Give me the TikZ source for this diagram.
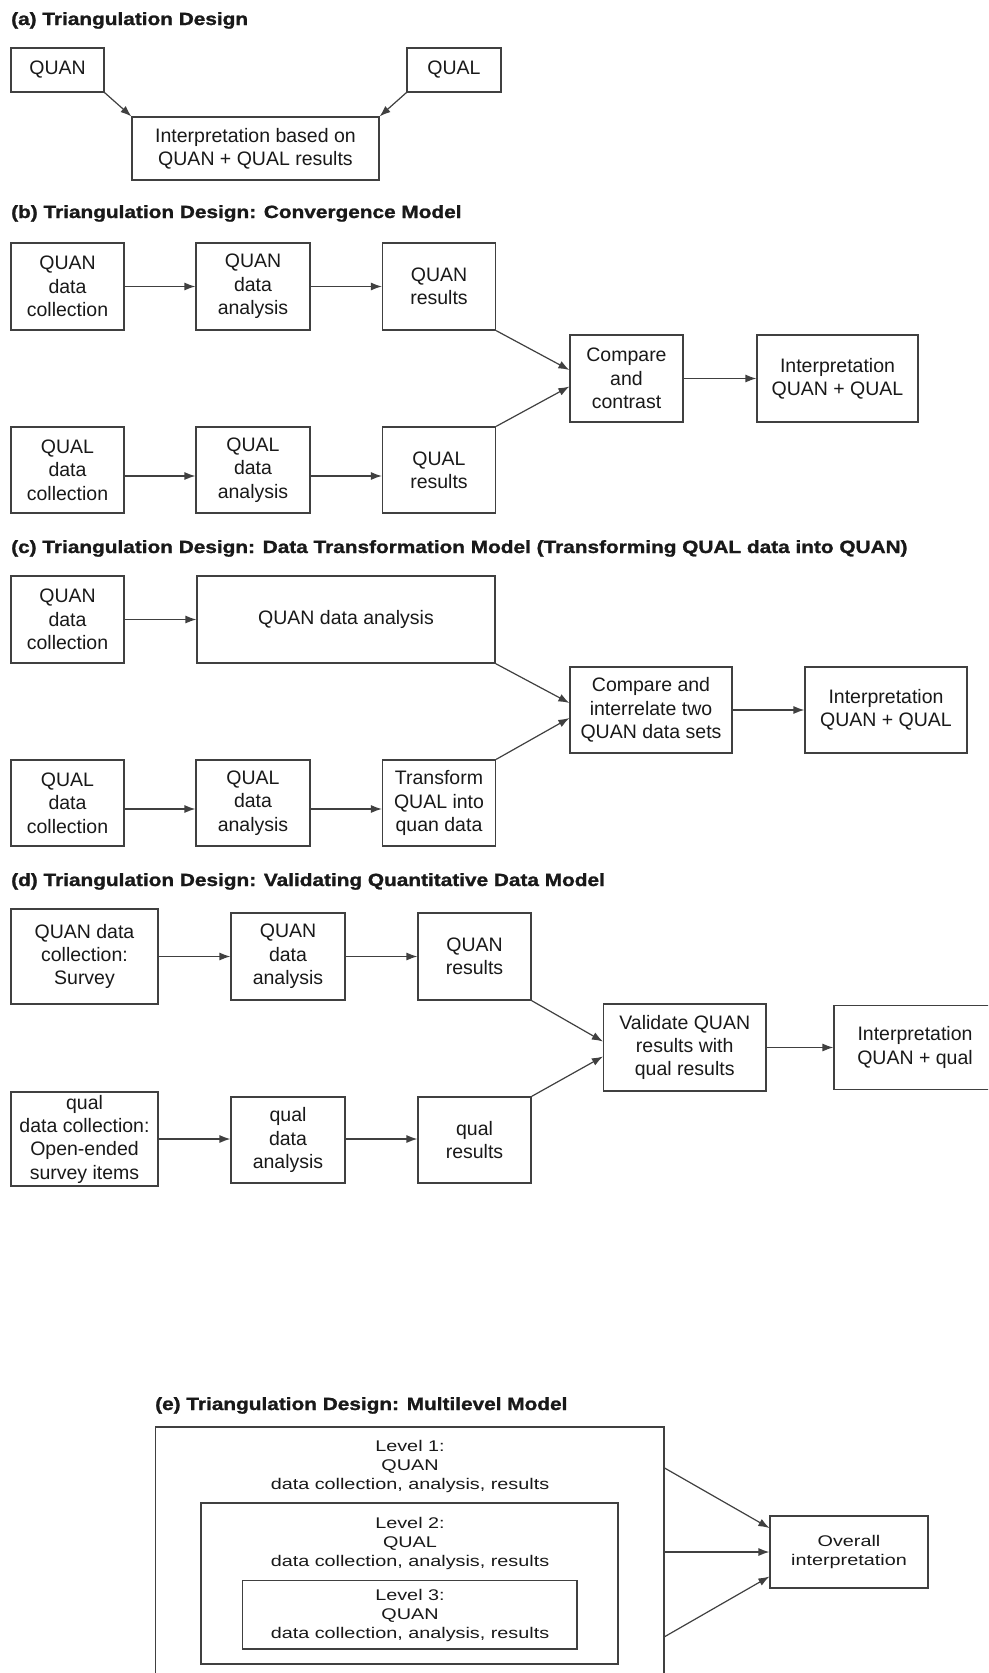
\documentclass[tikz,border=0pt]{standalone}
\usepackage{fontspec}
\setmainfont{Liberation Sans}
\newfontfamily\ttlfont{Liberation Sans Bold}[FakeBold=1.2]
\usetikzlibrary{arrows.meta,calc}
\newcommand{\sqz}[2]{\scalebox{1}[#1]{#2}}
\newcommand{\elines}[1]{\sqz{0.78}{\begin{tabular}{@{}c@{}}#1\end{tabular}}}
\tikzset{
  bx/.style 2 args={draw=black!75, line width=1.2pt, inner sep=0pt, align=center,
    font=\fontsize{19.5}{23.3}\selectfont, text=black!90,
    minimum width=#1, minimum height=#2},
  ebx/.style 2 args={draw=black!75, line width=1.2pt, inner sep=0pt,
    minimum width=#1, minimum height=#2},
  etx/.style={inner sep=0pt, font=\fontsize{19.8}{24.4}\selectfont, text=black!90},
  ar/.style={draw=black!75, line width=1.2pt, -{Latex[length=11pt,width=8pt]}},
  ttl/.style={anchor=base west, inner sep=0pt, font=\ttlfont\fontsize{20.8}{24}\selectfont, text=black!90},
}
\begin{document}
\begin{tikzpicture}[x=1pt,y=-1pt]
\useasboundingbox (0,0) rectangle (988,1673);
\clip (0,0) rectangle (988,1673);
\fill[white] (0,0) rectangle (988,1673);

% ---------------- (a)
\node[ttl] (ta) at (11,25) {\sqz{0.85}{(a) Triangulation Design}};
\node[bx={93pt}{44pt}] (a1) at (57.5,70) {QUAN};
\node[bx={94pt}{44pt}] (a2) at (454,70) {QUAL};
\node[bx={247pt}{63pt}] (a3) at (255.5,148.5) {Interpretation based on\\QUAN + QUAL results};
\draw[ar] (a1.south east) -- (a3.north west);
\draw[ar] (a2.south west) -- (a3.north east);

% ---------------- (b)
\node[ttl] (tb) at (11,218) {\sqz{0.85}{(b) Triangulation Design: Convergence Model}};
\node[bx={113pt}{87pt}] (b11) at (67.5,286.5) {QUAN\\data\\collection};
\node[bx={114pt}{87pt}] (b12) at (253,286.5) {QUAN\\data\\analysis};
\node[bx={113pt}{87pt}] (b13) at (439,286.5) {QUAN\\results};
\node[bx={113pt}{86pt}] (b21) at (67.5,470) {QUAL\\data\\collection};
\node[bx={114pt}{86pt}] (b22) at (253,470) {QUAL\\data\\analysis};
\node[bx={113pt}{86pt}] (b23) at (439,470) {QUAL\\results};
\node[bx={113pt}{87pt}] (bc) at (626.5,378.5) {Compare\\and\\contrast};
\node[bx={161pt}{87pt}] (bi) at (837.5,378.5) {Interpretation\\QUAN + QUAL};
\draw[ar] (b11) -- (b12);
\draw[ar] (b12) -- (b13);
\draw[ar] ([yshift=-6pt]b21.east) -- ([yshift=-6pt]b22.west);
\draw[ar] ([yshift=-6pt]b22.east) -- ([yshift=-6pt]b23.west);
\draw[ar] (b13.south east) -- ([yshift=8.5pt]bc.west);
\draw[ar] (b23.north east) -- ([yshift=-8pt]bc.west);
\draw[ar] (bc) -- (bi);

% ---------------- (c)
\node[ttl] (tc) at (11,553) {\sqz{0.85}{(c) Triangulation Design: Data Transformation Model (Transforming QUAL data into QUAN)}};
\node[bx={113pt}{87pt}] (c11) at (67.5,619.5) {QUAN\\data\\collection};
\node[bx={298pt}{87pt}] (c12) at (346,619.5) {QUAN data analysis};
\node[bx={113pt}{86pt}] (c21) at (67.5,803) {QUAL\\data\\collection};
\node[bx={114pt}{86pt}] (c22) at (253,803) {QUAL\\data\\analysis};
\node[bx={113pt}{86pt}] (c23) at (439,803) {Transform\\QUAL into\\quan data};
\node[bx={162pt}{86pt}] (cc) at (651,710) {Compare and\\interrelate two\\QUAN data sets};
\node[bx={162pt}{86pt}] (ci) at (886,710) {Interpretation\\QUAN + QUAL};
\draw[ar] (c11) -- (c12);
\draw[ar] ([yshift=-6pt]c21.east) -- ([yshift=-6pt]c22.west);
\draw[ar] ([yshift=-6pt]c22.east) -- ([yshift=-6pt]c23.west);
\draw[ar] (c12.south east) -- ([yshift=7pt]cc.west);
\draw[ar] (c23.north east) -- ([yshift=-8pt]cc.west);
\draw[ar] (cc) -- (ci);

% ---------------- (d)
\node[ttl] (td) at (11,886) {\sqz{0.85}{(d) Triangulation Design: Validating Quantitative Data Model}};
\node[bx={147pt}{95pt}] (d11) at (84.5,956.5) {QUAN data\\collection:\\Survey};
\node[bx={114pt}{87pt}] (d12) at (288,956.5) {QUAN\\data\\analysis};
\node[bx={113pt}{87pt}] (d13) at (474.5,956.5) {QUAN\\results};
\node[bx={147pt}{94pt}] (d21) at (84.5,1139) {qual\\data collection:\\Open-ended\\survey items};
\node[bx={114pt}{86pt}] (d22) at (288,1140) {qual\\data\\analysis};
\node[bx={113pt}{86pt}] (d23) at (474.5,1140) {qual\\results};
\node[bx={162.5pt}{87pt}] (dv) at (684.75,1047.5) {Validate QUAN\\results with\\qual results};
\node[bx={162pt}{84pt}] (di) at (915,1047.5) {Interpretation\\QUAN + qual};
\draw[ar] (d11) -- (d12);
\draw[ar] (d12) -- (d13);
\draw[ar] (d21.east) -- (d22.west |- d21.east);
\draw[ar] (d22.east |- d21.east) -- (d23.west |- d21.east);
\draw[ar] (d13.south east) -- ([yshift=6pt]dv.west);
\draw[ar] (d23.north east) -- ([yshift=-9pt]dv.west);
\draw[ar] (dv) -- (di);

% ---------------- (e)
\node[ttl] (te) at (155,1410) {\sqz{0.85}{(e) Triangulation Design: Multilevel Model}};
\node[ebx={508.5pt}{250pt}] (L1) at (409.75,1552) {};
\node[ebx={417pt}{161pt}] (L2) at (409.5,1583.5) {};
\node[ebx={334.5pt}{68.5pt}] (L3) at (409.75,1614.75) {};
\node[etx] (L1t) at (410,1467) {\elines{Level 1:\\QUAN\\data collection, analysis, results}};
\node[etx] (L2t) at (410,1544) {\elines{Level 2:\\QUAL\\data collection, analysis, results}};
\node[etx] (L3t) at (410,1616) {\elines{Level 3:\\QUAN\\data collection, analysis, results}};
\node[bx={158pt}{72pt}, font=\fontsize{19.8}{25}\selectfont] (ov) at (849,1552) {\elines{Overall\\interpretation}};
\draw[ar] ([yshift=84pt]L1.east) -- ([yshift=24pt]ov.west);
\draw[ar] (L1.east) -- (ov.west);
\draw[ar] ([yshift=-84.7pt]L1.east) -- ([yshift=-24.5pt]ov.west);
\end{tikzpicture}
\end{document}
